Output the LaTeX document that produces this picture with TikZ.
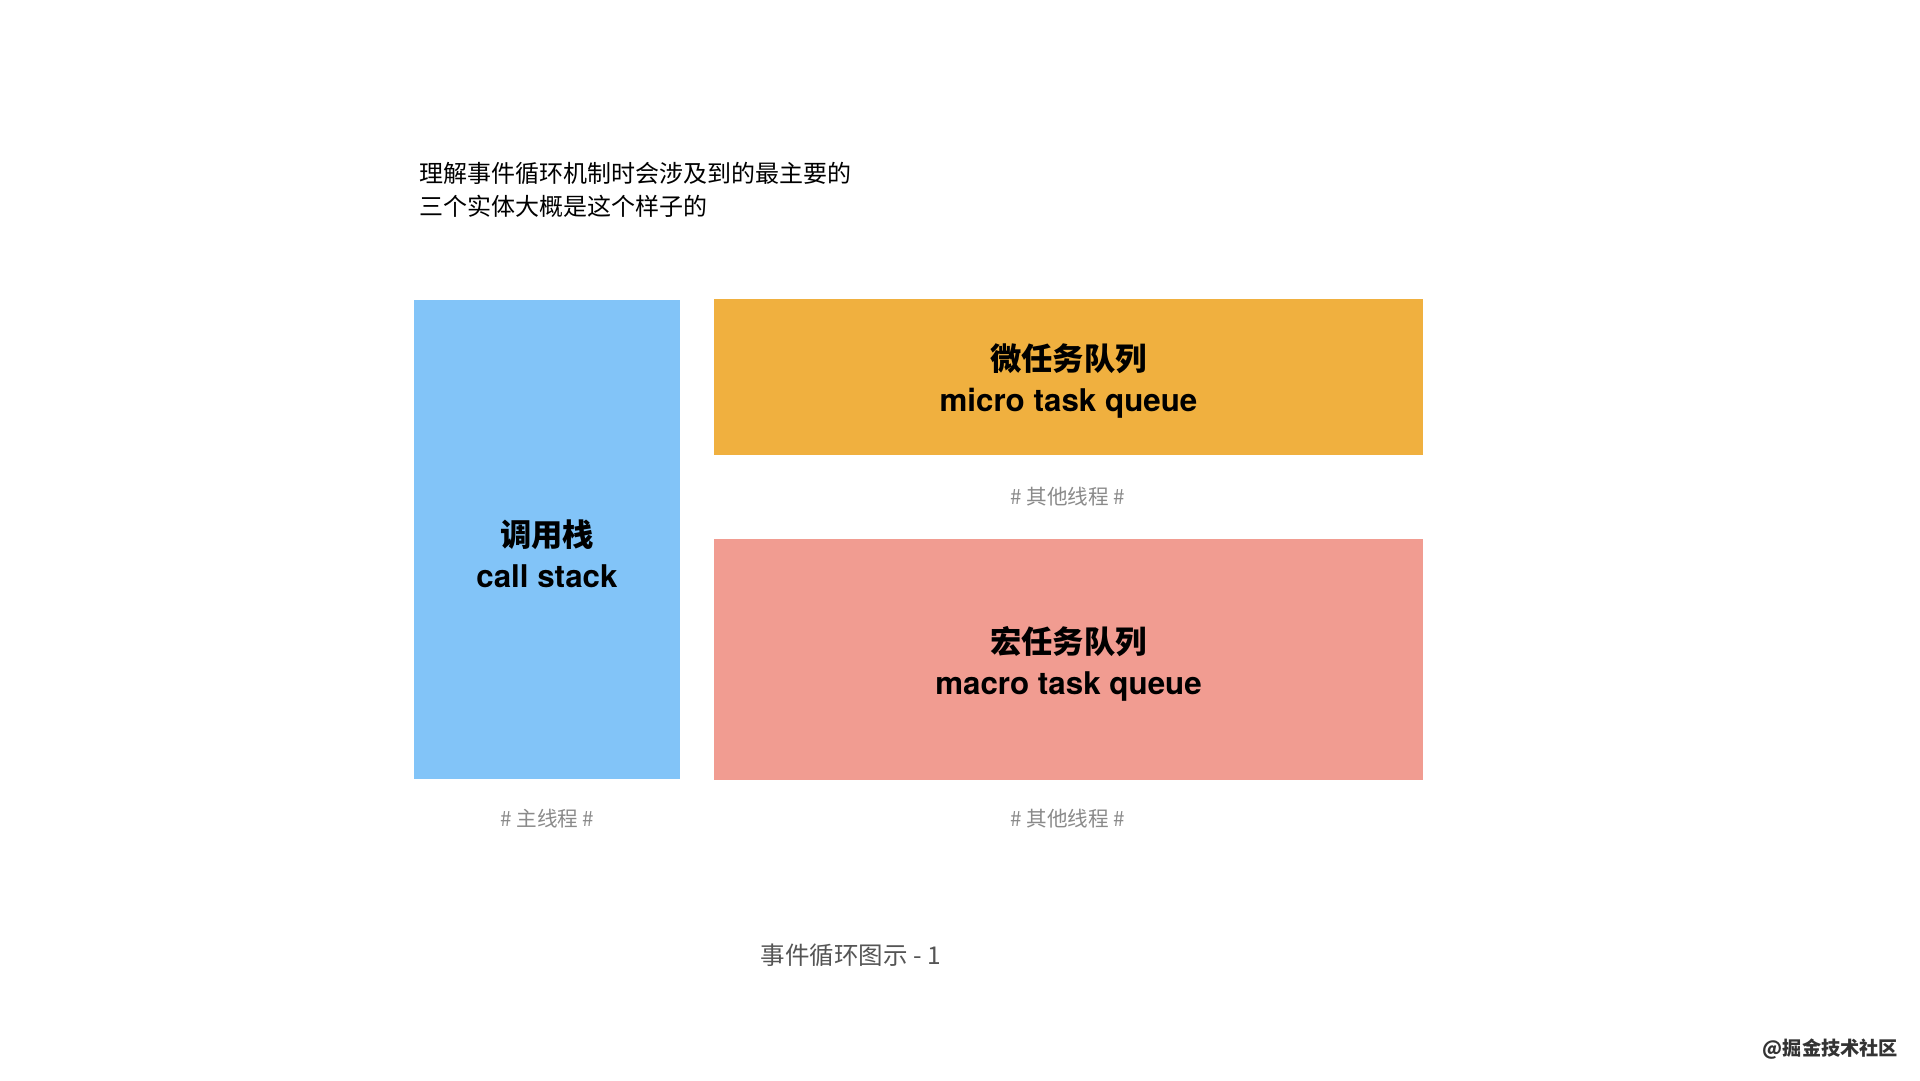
\documentclass[tikz,border=0pt]{standalone}
\usepackage{fontspec}
\setmainfont{TeX Gyre Heros}
\newfontfamily\cjk{Noto Sans CJK SC}
\definecolor{stackblue}{HTML}{82C4F8}
\definecolor{microorange}{HTML}{F0B03F}
\definecolor{macrored}{HTML}{F19C91}
\definecolor{threadgray}{HTML}{8A8A8A}
\definecolor{captiongray}{HTML}{555555}
\tikzset{
    block/.style={fill=#1, draw=none, inner sep=0pt},
    blocktext/.style={align=center, inner sep=0pt, font=\fontsize{31.3}{41}\selectfont\bfseries},
    thread/.style={text=threadgray, inner sep=0pt, font=\cjk\fontsize{20.6}{24}\selectfont},
}
\begin{document}
\begin{tikzpicture}[x=1pt, y=-1pt]
    \useasboundingbox[fill=white] (0,0) rectangle (1920,1080);

    % Intro text
    \node[anchor=west, align=left, inner sep=0pt, font=\cjk\fontsize{24}{33}\selectfont] (intro) at (419,190)
        {理解事件循环机制时会涉及到的最主要的\\三个实体大概是这个样子的};

    % The three blocks
    \node[block=stackblue, minimum width=266pt, minimum height=479pt] (stack) at (547,539.5) {};
    \node[block=microorange, minimum width=709pt, minimum height=156.5pt] (micro) at (1068.5,377) {};
    \node[block=macrored, minimum width=709pt, minimum height=241pt] (macro) at (1068.5,659.5) {};

    % Block labels
    \node[blocktext] (stacklabel) at (547,554) {{\cjk 调用栈}\\call stack};
    \node[blocktext] (microlabel) at (1068.5,381) {{\cjk 微任务队列}\\micro task queue};
    \node[blocktext] (macrolabel) at (1068.5,663.5) {{\cjk 宏任务队列}\\macro task queue};

    % Thread notes
    \node[thread] (microthread) at (1068,497) {\# 其他线程 \#};
    \node[thread] (stackthread) at (547.5,819) {\# 主线程 \#};
    \node[thread] (macrothread) at (1068,819) {\# 其他线程 \#};

    % Caption and mark
    \node[text=captiongray, font=\cjk\fontsize{24.5}{28}\selectfont] (caption) at (851,955) {事件循环图示 - 1};
    \node[text=black!80, font=\cjk\bfseries\fontsize{19.2}{21}\selectfont] (mark) at (1830.5,1049.5) {@掘金技术社区};
\end{tikzpicture}
\end{document}
